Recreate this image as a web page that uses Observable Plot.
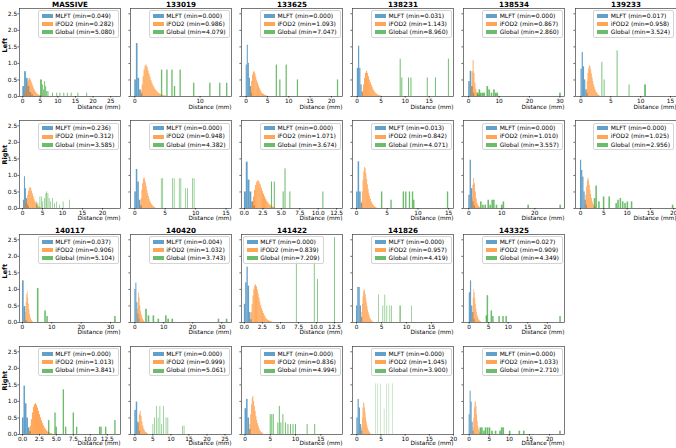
<!DOCTYPE html>
<html><head><meta charset="utf-8">
<script src="https://cdn.jsdelivr.net/npm/d3@7"></script>
<script src="https://cdn.jsdelivr.net/npm/@observablehq/plot@0.6"></script>
<style>
body{margin:0;background:#fff;}
#fig{position:relative;width:676px;height:448px;overflow:hidden;font-family:"DejaVu Sans",sans-serif;background:#fff;}
#fig svg{position:absolute;overflow:visible;}
.leg{position:absolute;border:0.6px solid #d4d4d4;border-radius:2px;background:rgba(255,255,255,0.8);padding:0.6px 3px 0.4px 3px;font-size:6px;line-height:8.3px;white-space:nowrap;color:#000;}
.leg .row{display:flex;align-items:center;height:8.3px}
.leg .sw{width:11px;height:4px;margin-right:2.6px;opacity:0.7}
</style></head><body><div id="fig"></div>
<script>
// ---------- data ----------
const subjects = ["MASSIVE","133019","133625","138231","138534","139233",
  "MASSIVE","133019","133625","138231","138534","139233",
  "140117","140420","141422","141826","143325",
  "140117","140420","141422","141826","143325"];
const panelRow = [0,0,0,0,0,0, 1,1,1,1,1,1, 2,2,2,2,2, 3,3,3,3,3];
const panelCol = [0,1,2,3,4,5, 0,1,2,3,4,5, 0,1,2,3,4, 0,1,2,3,4];
const rowLabels = ["Left","Right","Left","Right"];
const showTitle = [true,false,true,false];
const seriesNames = ["MLFT","iFOD2","Global"];
const seriesColors = ["#1f77b4","#ff7f0e","#2ca02c"];

const mlftMin   = ["0.049","0.000","0.000","0.031","0.000","0.017","0.236","0.000","0.000","0.013","0.000","0.000","0.037","0.004","0.000","0.000","0.027","0.000","0.000","0.000","0.000","0.000"];
const ifod2Min  = ["0.282","0.986","1.093","1.143","0.867","0.958","0.312","0.948","1.071","0.842","1.010","1.025","0.906","1.032","0.839","0.957","0.909","1.013","0.999","0.836","1.045","1.033"];
const globalMin = ["5.080","4.079","7.047","8.960","2.860","3.524","3.585","4.382","3.674","4.071","3.557","2.956","5.104","3.743","7.209","4.419","4.349","3.841","5.061","4.994","3.900","2.710"];

const xDomains = [[-0.9,27.8],[-0.65,14.8],[-1.1,22.6],[-0.97,20.06],[-1.7,31.5],[-0.9,16.0],
  [-0.75,24.5],[-0.7,15.9],[-0.4,13.3],[-0.65,15.8],[-1.6,29],[-1.07,20.6],
  [-1.0,33.4],[-1.5,33.4],[-0.4,13.6],[-0.8,19.4],[-1.45,24.4],
  [-0.44,14.45],[-1.2,26.8],[-0.7,19.3],[-0.9,20.0],[-1.4,23.7]];
const xTicks = [[0,5,10,15,20,25],[0,10],[0,5,10,15,20],[0,5,10,15],[0,10,20,30],[0,5,10,15],
  [0,5,10,15,20],[0,5,10,15],[0,2.5,5,7.5,10,12.5],[0,5,10,15],[0,10,20],[0,5,10,15,20],
  [0,10,20,30],[0,10,20,30],[0,2.5,5,7.5,10,12.5],[0,5,10,15],[0,5,10,15,20],
  [0,2.5,5,7.5,10,12.5],[0,5,10,15,20,25],[0,5,10,15],[0,5,10,15,20],[0,5,10,15,20]];
const yTicks = [0,0.5,1,1.5,2,2.5];
const yTop = 2.66;

// MLFT histograms: start, bin width, heights (density)
const mlftStart = [0.049,0,0,0.031,0,0.017, 0.236,0,0,0.013,0,0, 0.037,0.004,0,0,0.027, 0,0,0,0,0];
const mlftWidth = [0.5,0.25,0.25,0.25,0.5,0.2, 0.25,0.25,0.25,0.25,0.4,0.25, 0.55,0.35,0.18,0.25,0.3, 0.22,0.4,0.3,0.25,0.25];
const mlftHeights = [
  [0.3,0.75,0.55,0.3,0.12,0.05],
  [0.5,1.6,0.55,0.2,0.08],
  [0.95,1.55,1.0,0.55,0.3,0.1],
  [0.85,1.52,0.85,0.35,0.12],
  [0.45,0.76,0.3,0.1],
  [0.83,1.33,0.9,0.5,0.2,0.1],
  [0.25,0.96,0.6,0.3,0.12,0.05],
  [0.5,1.18,0.8,0.25,0.08],
  [0.5,1.4,0.86,0.5,0.2,0.08],
  [0.5,1.41,0.5,0.15],
  [0.4,1.46,0.6,0.2,0.08],
  [1.46,1.15,0.95,0.5,0.25,0.1],
  [1.26,0.48,0.05],
  [1.0,1.19,0.6,0.25,0.1],
  [0.55,1.2,1.67,1.1,0.3,0.08],
  [0.5,1.06,1.06,0.5,0.15],
  [0.9,1.26,0.5,0.3,0.1],
  [0.5,1.46,0.93,0.5,0.2,0.08],
  [0.73,0.98,0.37,0.1],
  [0.78,1.06,0.5,0.15],
  [0.5,1.06,0.8,0.3,0.1],
  [0.6,1.31,0.98,0.37,0.1]
];

// iFOD2 histograms
const ifod2Start = [0.282,0.986,1.093,1.143,0.867,0.958, 0.312,0.948,1.071,0.842,1.010,1.025, 0.906,1.032,0.839,0.957,0.909, 1.013,0.999,0.836,1.045,1.033];
const ifod2Width = [0.2,0.15,0.2,0.2,0.3,0.12, 0.2,0.12,0.15,0.12,0.25,0.15, 0.2,0.25,0.12,0.12,0.15, 0.15,0.25,0.15,0.12,0.15];
const ifod2Heights = [
  [0.02,0.04,0.08,0.14,0.22,0.32,0.42,0.5,0.55,0.54,0.5,0.44,0.38,0.32,0.26,0.21,0.17,0.13,0.1,0.08,0.06,0.05,0.04,0.03,0.02,0.02,0.01,0.01],
  [0.15,0.35,0.6,0.8,0.92,0.95,0.88,0.78,0.68,0.58,0.48,0.4,0.33,0.27,0.22,0.18,0.14,0.11,0.09,0.07,0.05,0.04,0.03,0.02,0.02,0.01],
  [0.2,0.45,0.65,0.73,0.75,0.68,0.58,0.48,0.4,0.32,0.25,0.19,0.14,0.1,0.08,0.06,0.04,0.03,0.02,0.01],
  [0.15,0.35,0.55,0.7,0.76,0.7,0.6,0.5,0.42,0.34,0.27,0.2,0.15,0.11,0.08,0.06,0.04,0.03,0.02,0.01],
  [0.3,0.75,1.08,0.7,0.4,0.22,0.12,0.07,0.04,0.02],
  [0.2,0.45,0.7,0.85,0.93,0.9,0.8,0.68,0.56,0.45,0.35,0.27,0.2,0.15,0.11,0.08,0.05,0.03,0.02],
  [0.02,0.05,0.1,0.18,0.28,0.4,0.52,0.6,0.64,0.6,0.52,0.44,0.36,0.28,0.22,0.16,0.12,0.09,0.06,0.04,0.03,0.02],
  [0.1,0.3,0.55,0.75,0.88,0.93,0.88,0.78,0.66,0.55,0.45,0.36,0.28,0.22,0.17,0.13,0.1,0.07,0.05,0.03,0.02],
  [0.15,0.35,0.55,0.7,0.8,0.84,0.8,0.72,0.62,0.52,0.43,0.35,0.28,0.22,0.17,0.13,0.1,0.07,0.05,0.03,0.02],
  [0.2,0.5,0.85,1.1,1.24,1.2,1.05,0.88,0.72,0.58,0.46,0.36,0.28,0.21,0.16,0.12,0.09,0.06,0.04,0.03,0.02],
  [0.3,0.7,0.91,0.75,0.5,0.3,0.17,0.1,0.06,0.03],
  [0.15,0.4,0.65,0.82,0.91,0.85,0.7,0.55,0.42,0.31,0.22,0.15,0.1,0.07,0.04,0.02],
  [0.1,0.3,0.6,0.85,0.93,0.75,0.55,0.38,0.25,0.16,0.1,0.06,0.04,0.02],
  [0.4,0.89,0.75,0.5,0.33,0.22,0.14,0.09,0.05,0.03],
  [0.1,0.3,0.55,0.8,1.0,1.1,1.14,1.08,0.98,0.86,0.74,0.62,0.51,0.42,0.34,0.27,0.21,0.16,0.12,0.09,0.07,0.05,0.04,0.03,0.02,0.01],
  [0.1,0.3,0.55,0.78,0.93,1.0,0.95,0.85,0.72,0.6,0.48,0.38,0.3,0.23,0.17,0.12,0.09,0.06,0.04,0.02],
  [0.3,0.75,0.99,0.9,0.72,0.55,0.4,0.3,0.21,0.15,0.1,0.07,0.05,0.03,0.02],
  [0.1,0.25,0.45,0.65,0.82,0.9,0.93,0.88,0.8,0.7,0.6,0.5,0.41,0.33,0.26,0.2,0.15,0.11,0.08,0.06,0.04,0.03,0.02],
  [0.3,0.6,0.7,0.55,0.38,0.25,0.16,0.1,0.06,0.04,0.02],
  [0.1,0.3,0.6,0.9,1.1,1.15,1.0,0.85,0.7,0.55,0.43,0.33,0.25,0.18,0.13,0.09,0.06,0.04,0.02],
  [0.2,0.5,0.8,0.96,0.92,0.8,0.65,0.5,0.38,0.28,0.2,0.14,0.1,0.07,0.04,0.02],
  [0.2,0.5,0.8,0.95,1.0,0.85,0.6,0.4,0.25,0.15,0.08,0.04,0.02]
];

// Global histograms: bin width, bin starts, heights
const globalWidth = [0.26,0.2,0.29,0.2,0.54,0.15, 0.16,0.11,0.14,0.22,0.48,0.33, 0.53,0.56,0.11,0.13,0.38, 0.2,0.18,0.19,0.07,0.4];
const globalX = [
  [5.08,5.35,5.6,5.9,6.25,6.55,6.85,7.2,8.5,9.7,10.6,11.7,12.7,13.8,15.7,18.2],
  [4.08,4.9,5.67,6.06,6.92,9.0,11.47,12.98,14.04],
  [7.05,7.87,9.36,12.0,21.4],
  [8.96,9.3,10.7,11.2,14.6,16.3,19.0],
  [2.86,3.4,3.9,4.5,5.0,6.0,6.6,7.4,8.2,8.8,9.3,29.9],
  [3.52,3.9,6.07,8.07,10.67,10.83],
  [3.59,3.9,4.4,4.8,5.1,5.5,5.9,6.1,6.4,6.7,7.0,7.5,8.0,8.6,9.3,10.2,11.8],
  [4.38,4.62,6.26,6.5,7.34,7.6,8.4,8.7,9.5,9.78],
  [3.67,4.05,5.25,5.5,6.16,10.64],
  [4.07,5.6,7.6,8.0,8.6,9.1,9.3,14.8],
  [3.56,4.2,4.9,5.8,6.4,7.0,7.5,8.3,9.9,10.4,17.9,27.6],
  [2.96,3.3,3.9,4.9,6.1,7.6,8.0,8.5,9.0,9.5,10.0,10.9,19.7],
  [5.1,7.6,8.3,31.4],
  [3.74,4.6,6.3,8.0,10.6,11.4,12.8,28.8,31.6],
  [7.21,9.7,10.15,12.5],
  [4.42,5.3,5.7,6.1,6.7,7.0,8.7,8.85,11.0],
  [4.35,4.6,5.6,6.0,7.6,8.6,9.4,23.2],
  [3.84,4.77,4.95,6.0,6.34,7.47,7.96,11.35,11.55,12.24,13.6],
  [5.06,5.5,6.0,6.5,7.0,7.5,8.0,8.7,9.2,13.3,13.7],
  [4.99,5.3,5.6,6.5,6.8,7.1,7.5,8.0,8.5,9.0,9.5,10.0,12.3,13.8],
  [3.9,4.3,5.0,5.7,6.2,6.7,7.4],
  [2.71,3.1,3.6,4.0,4.5,5.0,5.6,6.5,7.6,8.0,8.4,10.0,12.4,13.5,22.5]
];
const globalH = [
  [0.5,0.5,0.35,0.2,0.45,0.3,0.15,0.15,0.1,0.1,0.1,0.1,0.1,0.1,0.1,0.1],
  [0.8,0.8,0.8,0.3,0.8,0.4,0.4,0.4,0.4],
  [0.95,0.5,0.95,0.5,0.5],
  [1.13,0.56,0.56,0.56,0.56,0.56,1.13],
  [0.1,0.2,0.1,0.1,0.1,0.3,0.2,0.1,0.2,0.1,0.1,0.1],
  [1.03,0.5,1.38,0.35,0.35,0.35],
  [0.2,0.15,0.35,0.35,0.2,0.3,0.45,0.5,0.45,0.3,0.2,0.3,0.15,0.2,0.1,0.2,0.25],
  [0.9,0.9,0.9,0.9,0.9,0.9,0.6,0.6,0.9,0.9],
  [0.8,0.8,0.5,1.2,0.5,0.5],
  [0.5,0.25,0.5,0.5,0.5,0.5,0.25,0.5],
  [0.2,0.1,0.1,0.25,0.1,0.25,0.25,0.1,0.1,0.2,0.1,0.1],
  [0.3,0.68,0.2,0.35,0.35,0.15,0.25,0.3,0.2,0.15,0.2,0.2,0.1],
  [1.03,0.35,0.18,0.18],
  [0.4,0.2,0.2,0.1,0.2,0.1,0.1,0.1,0.1],
  [2.0,2.0,1.3,2.57],
  [0.83,0.5,0.83,0.5,0.5,0.5,0.5,0.5,0.5],
  [0.2,0.81,0.35,0.18,0.18,0.18,0.18,0.18],
  [0.42,0.65,0.22,1.35,0.22,0.65,0.22,0.22,0.22,0.22,0.42],
  [0.3,0.5,0.85,0.5,0.85,0.3,0.85,0.5,0.5,0.25,0.25],
  [0.6,0.6,0.6,0.35,0.85,0.35,0.6,0.35,0.3,0.3,0.3,0.3,0.3,0.3],
  [1.53,1.53,1.53,0.76,1.53,1.53,1.53],
  [0.2,0.2,0.1,0.2,0.2,0.2,0.1,0.1,0.1,0.2,0.2,0.1,0.1,0.1,0.1]
];
const legendLeftPanels = [14];

// ---------- layout ----------
const FW = 101, FH = 88;
const colLeft = c => 19 + c * 111.1;
const baselines = [95.7, 208.3, 321.7, 434];
const xlabelDy = [10.5, 10, 9.5, 9];
const mL = 20, mR = 3, mT = 12, mB = 16;
const fig = document.getElementById("fig");

const binsOf = (start, w, hs) => hs.map((h, i) => ({x1: start + i * w, x2: start + (i + 1) * w, h}));
const barsOf = (xs, w, hs) => xs.map((x, i) => ({x1: x, x2: x + w, h: hs[i]}));

subjects.forEach((subj, i) => {
  const r = panelRow[i], c = panelCol[i];
  const fl = colLeft(c), ft = baselines[r] - FH;
  const series = [
    binsOf(mlftStart[i], mlftWidth[i], mlftHeights[i]),
    binsOf(ifod2Start[i], ifod2Width[i], ifod2Heights[i]),
    barsOf(globalX[i], globalWidth[i], globalH[i])
  ];
  const dec = xTicks[i].some(t => t % 1 !== 0);
  const marks = series.map((d, k) => Plot.rect(d, {x1: "x1", x2: "x2", y1: 0, y2: "h", fill: seriesColors[k], fillOpacity: 0.7}));
  marks.push(
    Plot.frame({stroke: "#333", strokeWidth: 0.65}),
    Plot.axisX({ticks: xTicks[i], tickSize: 1.6, tickPadding: 0.6, strokeWidth: 0.6, fontSize: 5.8,
      tickFormat: dec ? d => d.toFixed(1) : d => String(d), label: null}),
    Plot.axisY({ticks: yTicks, tickSize: 1.6, tickPadding: 0.8, strokeWidth: 0.6, fontSize: 5.8,
      tickFormat: c === 0 ? d => d.toFixed(1) : () => "", label: null}),
    Plot.text(["Distance (mm)"], {frameAnchor: "bottom-right", dy: xlabelDy[r], lineAnchor: "middle", textAnchor: "end", fontSize: 5.8})
  );
  if (showTitle[r]) marks.push(Plot.text([subj], {frameAnchor: "top", dy: -1.2, lineAnchor: "bottom", fontWeight: "bold", fontSize: 7.2}));
  if (c === 0) marks.push(Plot.text([rowLabels[r]], {frameAnchor: "left", dx: -14.5, rotate: -90, fontWeight: "bold", fontSize: 6.5}));
  const svg = Plot.plot({
    width: FW + mL + mR, height: FH + mT + mB,
    marginLeft: mL, marginRight: mR, marginTop: mT, marginBottom: mB,
    style: {fontFamily: "DejaVu Sans", fontSize: "5.8px", color: "#000", background: "transparent"},
    x: {domain: xDomains[i]},
    y: {domain: [0, yTop]},
    marks
  });
  svg.style.left = (fl - mL) + "px";
  svg.style.top = (ft - mT) + "px";
  fig.appendChild(svg);

  // legend
  const leg = document.createElement("div");
  leg.className = "leg";
  const mins = [mlftMin[i], ifod2Min[i], globalMin[i]];
  leg.innerHTML = seriesNames.map((n, k) =>
    `<div class="row"><span class="sw" style="background:${seriesColors[k]}"></span><span>${n} (min=${mins[k]})</span></div>`).join("");
  leg.style.top = (ft + 2.3) + "px";
  if (legendLeftPanels.includes(i)) leg.style.left = (fl + 1.5) + "px";
  else leg.style.right = (676 - (fl + FW - 1.5)) + "px";
  fig.appendChild(leg);
});
</script></body></html>
